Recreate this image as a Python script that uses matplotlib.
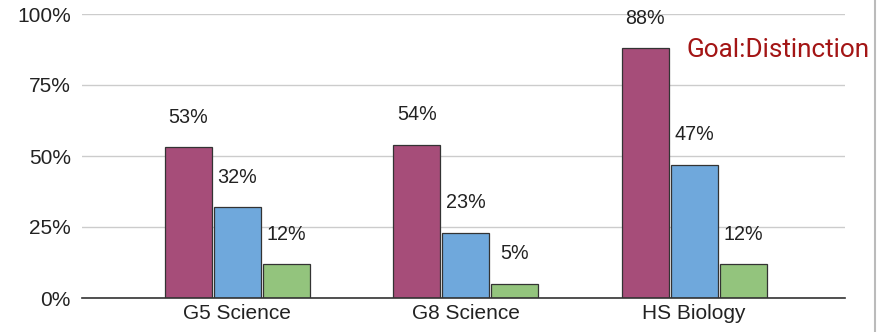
import matplotlib.pyplot as plt
import numpy as np

# Categories and series values (percent)
categories = ["G5 Science", "G8 Science", "HS Biology"]
series_a = [53, 54, 88]
series_b = [32, 23, 47]
series_c = [12, 5, 12]
colors = ["#A64D79", "#6FA8DC", "#93C47D"]
yticks = [0, 25, 50, 75, 100]

plt.rcParams["font.family"] = ["Liberation Sans", "DejaVu Sans"]

fig = plt.figure(figsize=(8.82, 3.32), dpi=100)
ax = fig.add_axes([82 / 882, 34 / 332, 763 / 882, 284 / 332])

x = np.arange(len(categories))
width = 0.205
step = 0.215
for k, (vals, col) in enumerate(zip([series_a, series_b, series_c], colors)):
    pos = x + (k - 1) * step
    ax.bar(pos, vals, width, color=col, edgecolor="#333333", linewidth=0.9, zorder=3)
    for p, v in zip(pos, vals):
        ax.annotate(f"{v}%", (p, v), xytext=(0, 21.5), textcoords="offset points",
                    ha="center", va="center", fontsize=14.2, color="#222222")

ax.set_xlim(-0.68, 2.66)
ax.set_ylim(0, 100)
ax.set_yticks(yticks)
ax.set_yticklabels([f"{t}%" for t in yticks], fontsize=15, color="#222222")
ax.set_xticks(x)
ax.set_xticklabels(categories, fontsize=15, color="#222222")
ax.tick_params(axis="y", length=0, pad=8)
ax.tick_params(axis="x", length=0, pad=4)
ax.grid(axis="y", color="#CCCCCC", linewidth=1, zorder=0)
for s in ["top", "right", "left"]:
    ax.spines[s].set_visible(False)
ax.spines["bottom"].set_color("#333333")
ax.spines["bottom"].set_linewidth(1.2)
ax.spines["bottom"].set_zorder(4)

fig.text(686 / 882, 1 - 50 / 332, "Goal:Distinction", color="#A31515",
         fontsize=18.8, family="Roboto", ha="left", va="center")

# right border line
fig.add_artist(plt.Line2D([875 / 882, 875 / 882], [0, 1], color="#BBBBBB", linewidth=1.5))

fig.savefig("out.png", dpi=100)
